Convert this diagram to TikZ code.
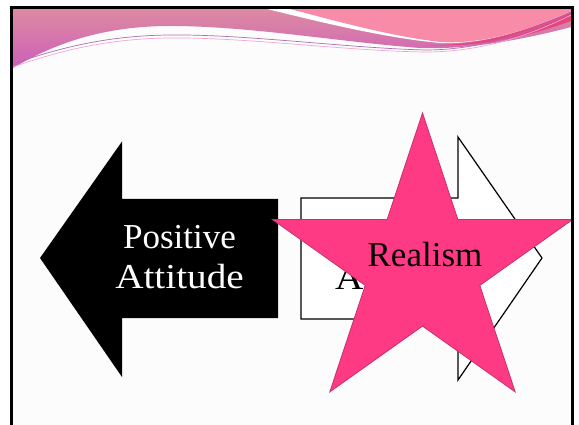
\documentclass[tikz,border=0pt]{standalone}
\usepackage{fontspec}
\setmainfont{Liberation Serif}
\definecolor{bandtop}{HTML}{DC8AA2}
\definecolor{bandbot}{HTML}{CE5FB9}
\definecolor{brightpink}{HTML}{F88BA8}
\definecolor{deeppink}{HTML}{E6467F}
\definecolor{thinpurple}{HTML}{A96FB3}
\definecolor{thinpink}{HTML}{F4A6CC}
\definecolor{starpink}{HTML}{FF3A85}
\definecolor{staredge}{HTML}{C8306C}
\definecolor{slidebg}{HTML}{FCFCFC}
\begin{document}
\begin{tikzpicture}[x=1pt,y=-1pt,
  lbl/.style={font=\fontsize{35}{40}\selectfont, inner sep=0pt},
  arrowshape/.style={line width=1.2pt, line join=miter},
  framestyle/.style={line width=3pt, line join=miter}]
\useasboundingbox (0,0) rectangle (579,425);
\fill[white] (0,0) rectangle (579,425);
\fill[slidebg] (13,9) rectangle (571,425);
% header band
\shade[top color=bandtop, bottom color=bandbot] (13,9) -- (13,68)
  .. controls (60,40) and (110,26) .. (170,26)
  .. controls (250,26) and (340,42) .. (420,48)
  .. controls (470,50) and (530,38) .. (571,27) -- (571,9) -- cycle;
% white streak
\fill[white] (267,9) .. controls (320,22) and (385,38) .. (440,43)
  .. controls (490,45) and (540,25) .. (571,11) -- (571,9) -- cycle;
% bright pink
\fill[brightpink] (290,9) .. controls (340,22) and (390,36) .. (440,42)
  .. controls (490,45) and (540,25) .. (571,11) -- (571,9) -- cycle;
% deeper pink stripe
\fill[deeppink] (425,45) .. controls (485,47) and (535,27) .. (571,12)
  -- (571,21) .. controls (530,36) and (480,48) .. (425,45) -- cycle;
% thin lines
\draw[thinpurple, line width=0.7pt] (13,64) .. controls (70,44) and (120,34) .. (185,35)
  .. controls (260,36) and (350,48) .. (425,50)
  .. controls (485,50) and (535,30) .. (571,12);
\draw[thinpink, line width=0.7pt] (13,67) .. controls (70,47) and (120,37) .. (185,38)
  .. controls (260,39) and (350,51) .. (425,52)
  .. controls (485,52) and (535,33) .. (571,15);
% black left arrow
\fill[black] (40,258) -- (122,141.5) -- (122,199) -- (278,199) -- (278,318)
  -- (122,318) -- (122,377) -- cycle;
\node[lbl, white, anchor=base] (pos1) at (179.5,248) {Positive};
\node[lbl, white, anchor=base] (pos2) at (179.5,288) {\addfontfeature{FakeStretch=1.12}Attitude};
% white right arrow
\draw[arrowshape, fill=white] (301,198) -- (458,198) -- (458,137) -- (542,258)
  -- (458,380) -- (458,319) -- (301,319) -- cycle;
\node[lbl, anchor=base west] (hid) at (335,289) {\addfontfeature{FakeStretch=1.12}A};
% star
\draw[fill=starpink, draw=staredge, line width=0.8pt, line join=miter]
  (422.5,113) -- (457.9,219.6) -- (572.5,219.6) -- (479.8,285.4) -- (515.2,391.9)
  -- (422.5,326.1) -- (329.8,391.9) -- (365.2,285.4) -- (272.5,219.6)
  -- (387.1,219.6) -- cycle;
\node[lbl, anchor=base] (real) at (425,266) {Realism};
% frame
\draw[framestyle] (11.5,425) -- (11.5,7.5) -- (572.5,7.5) -- (572.5,425);
\end{tikzpicture}
\end{document}
